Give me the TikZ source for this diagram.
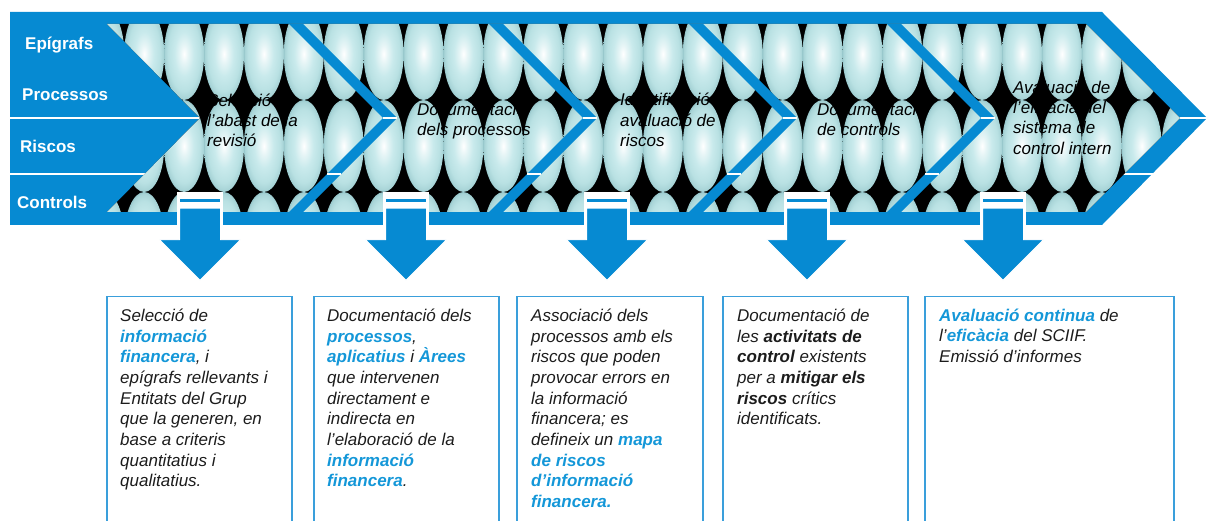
\documentclass[tikz,border=0pt]{standalone}
\usepackage{fontspec}
\setmainfont{Liberation Sans}
\usetikzlibrary{shapes.arrows,positioning}
\definecolor{mainblue}{HTML}{068AD2}
\definecolor{boxblue}{HTML}{3A9FDB}
\definecolor{hiblue}{HTML}{1497D8}
\definecolor{textgrey}{HTML}{1C1C1C}
\definecolor{ovalA}{HTML}{E6F5F6}
\definecolor{ovalB}{HTML}{C9EAEC}
\definecolor{ovalC}{HTML}{B9E1E3}
\definecolor{ovalD}{HTML}{A8D4D7}
\definecolor{ovalE}{HTML}{98C8CC}
\pgfdeclareradialshading{ovalshade}{\pgfpoint{0bp}{0bp}}{color(0bp)=(white); color(5bp)=(ovalA); color(12bp)=(ovalB); color(20bp)=(ovalC); color(24bp)=(ovalD); color(25bp)=(ovalE); color(50bp)=(ovalE)}
\newcommand{\hiword}[1]{\textcolor{hiblue}{\bfseries #1}}
\tikzset{font=\fontsize{17}{20.7}\selectfont\itshape,
  rowlabel/.style={anchor=base west, inner sep=0pt, text=white, font=\fontsize{17}{20}\selectfont\bfseries\upshape},
  steptext/.style={anchor=north west, align=left, inner sep=0pt, text=black, font=\fontsize{17}{20.3}\selectfont\itshape},
  infobox/.style={draw=boxblue, line width=1.5pt, minimum height=244pt, anchor=north west, inner sep=0pt},
  infotext/.style={align=left, inner sep=0pt, text=textgrey},
  downarrow/.style={single arrow, shape border rotate=270, fill=mainblue, draw=white, line width=0.8pt, inner xsep=20pt, inner ysep=0pt, minimum height=72pt, single arrow head extend=20pt, single arrow tip angle=90},
  rowline/.style={white, line width=2pt}}

\begin{document}
\begin{tikzpicture}[x=1pt,y=-1pt]
\useasboundingbox (0,0) rectangle (1208,521);
\fill[mainblue] (10,12) -- (1102,12) -- (1207,118) -- (1102,225) -- (10,225) -- cycle;
\draw[rowline] (10,118) -- (1207,118) (10,174) -- (1207,174);
\begin{scope}
\clip (107,24) -- (1086,24) -- (1180,118) -- (1086,212) -- (107,212) -- (200,118) -- cycle;
\fill[black] (100,20) rectangle (1190,216);
\foreach \i in {-1,...,26}
  \foreach \j in {54,146,238}
    \shade[shading=ovalshade] ({144.2+39.9*\i},\j) ellipse (20pt and 46pt);
\end{scope}
\node[steptext] (sel) at (207,93.5) {Selecció\\l’abast de la\\revisió};
\node[steptext] (docp) at (417,102.6) {Documentació\\dels processos};
\node[steptext] (ident) at (620,93) {Identificació\\avaluació de\\riscos};
\node[steptext] (docc) at (817,102.6) {Documentació\\de controls};
\node[steptext] (aval) at (1013,80.6) {Avaluació de\\l’eficàcia del\\sistema de\\control intern};
\foreach \t in {397,597,797,995} {
  \fill[mainblue] ({\t-108},24) -- ({\t-14},118) -- ({\t-108},212) -- ({\t-94},212) -- (\t,118) -- ({\t-94},24) -- cycle;
  \draw[rowline] ({\t-14},118) -- (\t,118) ({\t-70},174) -- ({\t-56},174);
}
\node[rowlabel] (epi) at (25,50) {Epígrafs};
\node[rowlabel] (pro) at (22,101) {Processos};
\node[rowlabel] (ris) at (20,153) {Riscos};
\node[rowlabel] (con) at (17,209) {Controls};
\foreach \cx [count=\n] in {200,406,607,807,1003} {
  \fill[white] ({\cx-23},192) rectangle ({\cx+23},241);
  \fill[mainblue] ({\cx-20},199.5) rectangle ({\cx+20},202.5);
  \node[downarrow] (arr\n) at (\cx,234) {};
}
\node[infobox, minimum width=185pt] (box1) at (106,296) {};
\node[infobox, minimum width=185pt] (box2) at (313,296) {};
\node[infobox, minimum width=186pt] (box3) at (516,296) {};
\node[infobox, minimum width=185pt] (box4) at (722,296) {};
\node[infobox, minimum width=249pt] (box5) at (924,296) {};
\node[infotext, below right=12.6pt and 14pt of box1.north west] (txt1) {Selecció de\\\hiword{informació}\\\hiword{financera}, i\\epígrafs rellevants i\\Entitats del Grup\\que la generen, en\\base a criteris\\quantitatius i\\qualitatius.};
\node[infotext, below right=12.6pt and 14pt of box2.north west] (txt2) {Documentació dels\\\hiword{processos},\\\hiword{aplicatius} i \hiword{Àrees}\\que intervenen\\directament e\\indirecta en\\l’elaboració de la\\\hiword{informació}\\\hiword{financera}.};
\node[infotext, below right=12.6pt and 15pt of box3.north west] (txt3) {Associació dels\\processos amb els\\riscos que poden\\provocar errors en\\la informació\\financera; es\\defineix un \hiword{mapa}\\\hiword{de riscos}\\\hiword{d’informació}\\\hiword{financera.}};
\node[infotext, below right=12.6pt and 15pt of box4.north west] (txt4) {Documentació de\\les \textbf{activitats de}\\\textbf{control} existents\\per a \textbf{mitigar els}\\\textbf{riscos} crítics\\identificats.};
\node[infotext, below right=12.6pt and 15pt of box5.north west] (txt5) {\hiword{Avaluació continua} de\\l’\hiword{eficàcia} del SCIIF.\\Emissió d’informes};
\end{tikzpicture}
\end{document}
